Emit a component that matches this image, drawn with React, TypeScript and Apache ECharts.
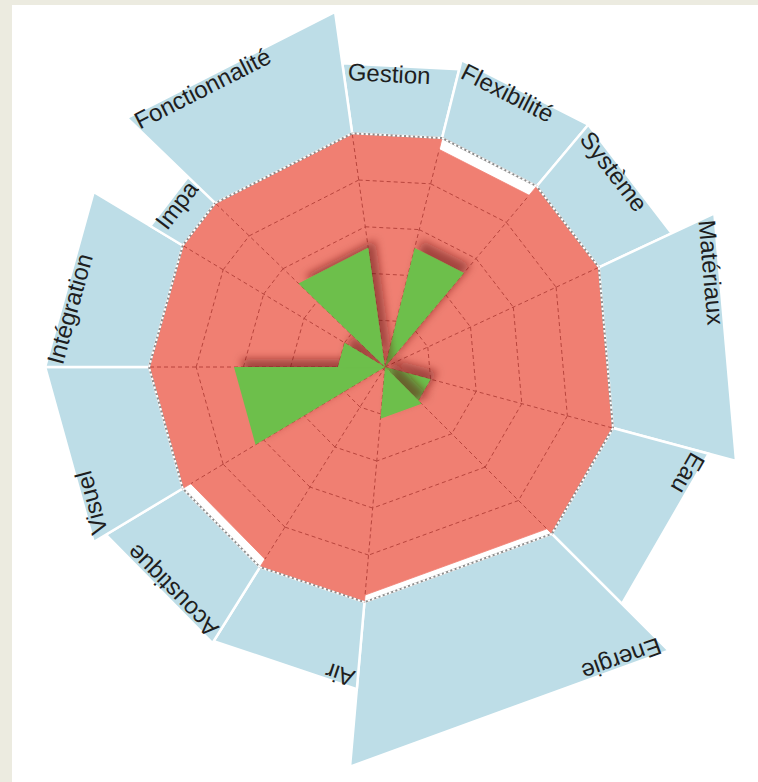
import React, { useEffect, useRef } from 'react';
import * as echarts from 'echarts';

// ---------- data ----------
const categories = [
  'Gestion', 'Flexibilité', 'Système', 'Matériaux', 'Eau', 'Energie',
  'Air', 'Acoustique', 'Visuel', 'Intégration', 'Impa', 'Fonctionnalité',
];
// angular share of each sector (degrees, sums to 360)
const angularWeights = [22, 26, 25, 40, 30, 50, 27, 27, 31, 31, 13, 38];
// outer (blue) value of each sector, on the radius scale
const outerValues = [6.5, 6.7, 6.7, 7.7, 7.1, 8.5, 6.85, 6.9, 7.2, 7.2, 5.8, 7.6];
// red polygon values (max 5)
const redValues = [5, 4.75, 5, 5, 5, 4.85, 5, 4.8, 5, 5, 5, 5];
// green wedge values
const greenValues = [0, 2.6, 0, 0, 1.0, 1.1, 0, 0, 3.2, 1.0, 0, 2.55];
const gridLevels = [1, 2, 3, 4];
const maxLevel = 5;

// ---------- layout / style ----------
const START_ANGLE = 352;
const CENTER = [385, 367];
const UNIT_PX = 47.2;
const RADIUS_MAX = 8.5;
const BLUE = '#bddde7';
const RED = '#f07f72';
const GREEN = '#6dbf4c';
const GRID = '#b8453d';
const FONT = '"Liberation Sans", Arial, Helvetica, sans-serif';
const LABEL_PAD = 6;
const LABEL_INSET = -4;

function buildBounds() {
  const starts: number[] = [];
  const ends: number[] = [];
  let acc = START_ANGLE;
  angularWeights.forEach((w) => {
    starts.push(acc);
    acc += w;
    ends.push(acc);
  });
  return { starts, ends };
}

export default function App() {
  const ref = useRef<HTMLDivElement>(null);

  useEffect(() => {
    if (!ref.current) return;
    const chart = echarts.init(ref.current, undefined, { renderer: 'svg' });
    const { starts, ends } = buildBounds();
    const n = categories.length;

    const blueData = categories.map((_, i) => [outerValues[i], starts[i], ends[i], i]);
    const redData = categories.map((_, i) => [redValues[i], starts[i], ends[i], i]);
    const greenData = categories
      .map((_, i) => [greenValues[i], starts[i], ends[i], i])
      .filter((d) => d[0] > 0);

    const option: any = {
      animation: false,
      polar: { center: CENTER, radius: RADIUS_MAX * UNIT_PX },
      angleAxis: {
        type: 'value', min: 0, max: 360, startAngle: 90, clockwise: true, show: false,
      },
      radiusAxis: { type: 'value', min: 0, max: RADIUS_MAX, show: false },
      series: [
        {
          type: 'custom',
          name: 'outer',
          coordinateSystem: 'polar',
          z: 1,
          silent: true,
          data: blueData,
          renderItem: (params: any, api: any) => {
            const R = api.value(0);
            const a0 = api.value(1);
            const a1 = api.value(2);
            const i = api.value(3);
            const p0 = api.coord([maxLevel, a0]);
            const p1 = api.coord([R, a0]);
            const p2 = api.coord([R, a1]);
            const p3 = api.coord([maxLevel, a1]);
            const dx = p2[0] - p1[0];
            const dy = p2[1] - p1[1];
            const len = Math.sqrt(dx * dx + dy * dy);
            const ux = dx / len;
            const uy = dy / len;
            const nx = -uy;
            const ny = ux;
            const x = p1[0] + ux * LABEL_PAD + nx * LABEL_INSET;
            const y = p1[1] + uy * LABEL_PAD + ny * LABEL_INSET;
            return {
              type: 'group',
              children: [
                {
                  type: 'polygon',
                  shape: { points: [p0, p1, p2, p3] },
                  style: { fill: BLUE, stroke: '#ffffff', lineWidth: 2.5 },
                },
                {
                  type: 'text',
                  x,
                  y,
                  rotation: -Math.atan2(uy, ux),
                  style: {
                    text: categories[i],
                    fill: '#1e1e1e',
                    font: `24px ${FONT}`,
                    align: 'left',
                    verticalAlign: 'top',
                  },
                },
              ],
            };
          },
        },
        {
          type: 'custom',
          name: 'red',
          coordinateSystem: 'polar',
          z: 2,
          silent: true,
          data: redData,
          renderItem: (params: any, api: any) => {
            const v = api.value(0);
            const a0 = api.value(1);
            const a1 = api.value(2);
            const c = api.coord([0, a0]);
            return {
              type: 'polygon',
              shape: { points: [c, api.coord([v, a0]), api.coord([v, a1])] },
              style: { fill: RED, stroke: RED, lineWidth: 0.8 },
            };
          },
        },
        {
          type: 'custom',
          name: 'grid',
          coordinateSystem: 'polar',
          z: 3,
          silent: true,
          data: redData,
          renderItem: (params: any, api: any) => {
            const a0 = api.value(1);
            const a1 = api.value(2);
            const i = api.value(3);
            const prev = redValues[(i - 1 + n) % n];
            const radialEnd = Math.min(prev, redValues[i]);
            const c = api.coord([0, a0]);
            const end = api.coord([radialEnd, a0]);
            const style = { stroke: GRID, lineWidth: 1, lineDash: [4, 3], fill: null };
            const children: any[] = [
              {
                type: 'line',
                shape: { x1: c[0], y1: c[1], x2: end[0], y2: end[1] },
                style,
              },
            ];
            gridLevels.forEach((l) => {
              const q0 = api.coord([l, a0]);
              const q1 = api.coord([l, a1]);
              children.push({
                type: 'line',
                shape: { x1: q0[0], y1: q0[1], x2: q1[0], y2: q1[1] },
                style,
              });
            });
            return { type: 'group', children };
          },
        },
        {
          type: 'custom',
          name: 'outline',
          coordinateSystem: 'polar',
          z: 4,
          silent: true,
          data: redData,
          renderItem: (params: any, api: any) => {
            const a0 = api.value(1);
            const a1 = api.value(2);
            const q0 = api.coord([maxLevel, a0]);
            const q1 = api.coord([maxLevel, a1]);
            const shape = { x1: q0[0], y1: q0[1], x2: q1[0], y2: q1[1] };
            return {
              type: 'group',
              children: [
                { type: 'line', shape, style: { stroke: '#8c8c8c', lineWidth: 2 } },
                { type: 'line', shape, style: { stroke: '#ffffff', lineWidth: 2, lineDash: [2.5, 2] } },
              ],
            };
          },
        },
        {
          type: 'custom',
          name: 'green',
          coordinateSystem: 'polar',
          z: 5,
          silent: true,
          data: greenData,
          renderItem: (params: any, api: any) => {
            const v = api.value(0);
            const a0 = api.value(1);
            const a1 = api.value(2);
            const c = api.coord([0, a0]);
            return {
              type: 'polygon',
              shape: { points: [c, api.coord([v, a0]), api.coord([v, a1])] },
              style: {
                fill: GREEN,
                shadowBlur: 8,
                shadowColor: 'rgba(100,25,25,0.55)',
                shadowOffsetX: 7,
                shadowOffsetY: -8,
              },
            };
          },
        },
      ],
    };

    chart.setOption(option);
    return () => chart.dispose();
  }, []);

  return (
    <div style={{ position: 'fixed', left: 0, top: 0, width: 758, height: 782, background: '#ecebe0' }}>
      <div style={{ position: 'absolute', left: 12, top: 5, right: 0, bottom: 0, background: '#ffffff' }} />
      <div ref={ref} style={{ position: 'absolute', left: 0, top: 0, width: 758, height: 782 }} />
    </div>
  );
}
